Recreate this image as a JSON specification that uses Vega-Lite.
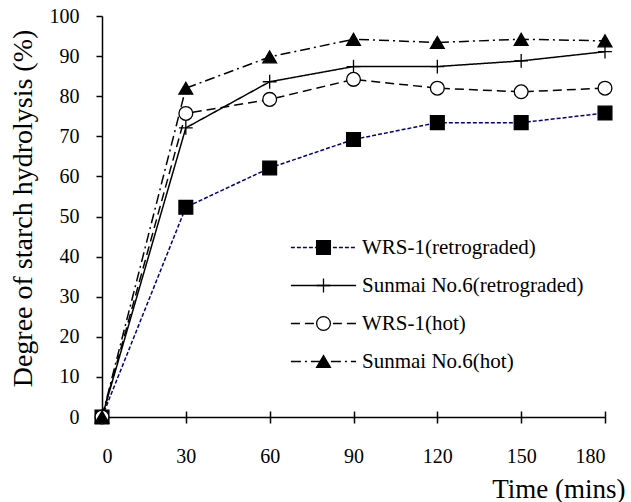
{
  "$schema": "https://vega.github.io/schema/vega-lite/v6.json",
  "width": 503,
  "height": 401,
  "autosize": "none",
  "padding": {"left": 102, "top": 16, "right": 26, "bottom": 85},
  "background": "white",
  "config": {"view": {"stroke": null}, "font": "Liberation Serif"},
  "data": {"values": [
    {"series": "WRS-1(retrograded)", "time": 0, "value": 0},
    {"series": "WRS-1(retrograded)", "time": 30, "value": 52.3},
    {"series": "WRS-1(retrograded)", "time": 60, "value": 62.1},
    {"series": "WRS-1(retrograded)", "time": 90, "value": 69.2},
    {"series": "WRS-1(retrograded)", "time": 120, "value": 73.4},
    {"series": "WRS-1(retrograded)", "time": 150, "value": 73.4},
    {"series": "WRS-1(retrograded)", "time": 180, "value": 75.8},
    {"series": "Sunmai No.6(retrograded)", "time": 0, "value": 0},
    {"series": "Sunmai No.6(retrograded)", "time": 30, "value": 72.1},
    {"series": "Sunmai No.6(retrograded)", "time": 60, "value": 83.6},
    {"series": "Sunmai No.6(retrograded)", "time": 90, "value": 87.4},
    {"series": "Sunmai No.6(retrograded)", "time": 120, "value": 87.4},
    {"series": "Sunmai No.6(retrograded)", "time": 150, "value": 88.8},
    {"series": "Sunmai No.6(retrograded)", "time": 180, "value": 91.1},
    {"series": "WRS-1(hot)", "time": 0, "value": 0},
    {"series": "WRS-1(hot)", "time": 30, "value": 75.7},
    {"series": "WRS-1(hot)", "time": 60, "value": 79.2},
    {"series": "WRS-1(hot)", "time": 90, "value": 84.2},
    {"series": "WRS-1(hot)", "time": 120, "value": 82.0},
    {"series": "WRS-1(hot)", "time": 150, "value": 81.1},
    {"series": "WRS-1(hot)", "time": 180, "value": 82.0},
    {"series": "Sunmai No.6(hot)", "time": 0, "value": 0},
    {"series": "Sunmai No.6(hot)", "time": 30, "value": 82.0},
    {"series": "Sunmai No.6(hot)", "time": 60, "value": 89.8},
    {"series": "Sunmai No.6(hot)", "time": 90, "value": 94.2},
    {"series": "Sunmai No.6(hot)", "time": 120, "value": 93.4},
    {"series": "Sunmai No.6(hot)", "time": 150, "value": 94.2},
    {"series": "Sunmai No.6(hot)", "time": 180, "value": 93.8}
  ]},
  "resolve": {"axis": {"x": "independent", "y": "independent"}},
  "layer": [
    {
      "mark": {"type": "line", "strokeWidth": 1.5},
      "encoding": {
        "x": {"field": "time", "type": "quantitative",
          "scale": {"domain": [0, 180], "nice": false, "zero": false},
          "axis": {"orient": "bottom", "values": [0, 30, 60, 90, 120, 150, 180], "grid": false,
            "domainColor": "black", "domainWidth": 1.5, "tickColor": "black", "tickWidth": 1.5, "tickSize": 6,
            "labelFont": "Liberation Serif", "labelFontSize": 20, "labelColor": "black", "labelPadding": 23,
            "title": "Time (mins)", "titleFont": "Liberation Serif", "titleFontSize": 27, "titleFontWeight": "normal",
            "titleColor": "black", "titleX": 523, "titleY": 80, "titleAlign": "right", "titleBaseline": "alphabetic", "titleAnchor": null}},
        "y": {"field": "value", "type": "quantitative",
          "scale": {"domain": [0, 100], "nice": false},
          "axis": {"orient": "left", "values": [0, 10, 20, 30, 40, 50, 60, 70, 80, 90, 100], "grid": false,
            "domainColor": "black", "domainWidth": 1.5, "tickColor": "black", "tickWidth": 1.5, "tickSize": 6,
            "labelFont": "Liberation Serif", "labelFontSize": 20, "labelColor": "black", "labelPadding": 17,
            "title": "Degree of starch hydrolysis (%)", "titleFont": "Liberation Serif", "titleFontSize": 28, "titleFontWeight": "normal",
            "titleColor": "black", "titleAngle": -90, "titleX": -71, "titleY": 192, "titleAlign": "center", "titleBaseline": "alphabetic", "titleAnchor": null}},
        "color": {"field": "series", "type": "nominal",
          "scale": {"domain": ["WRS-1(retrograded)", "Sunmai No.6(retrograded)", "WRS-1(hot)", "Sunmai No.6(hot)"],
            "range": ["#000080", "black", "black", "black"]},
          "legend": {"orient": "none", "legendX": 211, "legendY": 221, "title": null, "padding": 0,
            "symbolType": "M-5,0H5", "symbolSize": 170, "symbolStrokeWidth": 1.5,
            "labelFont": "Liberation Serif", "labelFontSize": 21, "labelColor": "black", "labelOffset": 28, "labelLimit": 400,
            "rowPadding": 16}},
        "strokeDash": {"field": "series", "type": "nominal",
          "scale": {"domain": ["WRS-1(retrograded)", "Sunmai No.6(retrograded)", "WRS-1(hot)", "Sunmai No.6(hot)"],
            "range": [[4, 2], [1, 0], [9, 5], [10, 4, 2, 4]]},
          "legend": {"orient": "none", "legendX": 211, "legendY": 221, "title": null, "padding": 0,
            "symbolType": "M-5,0H5", "symbolSize": 170, "symbolStrokeWidth": 1.5,
            "labelFont": "Liberation Serif", "labelFontSize": 21, "labelColor": "black", "labelOffset": 28, "labelLimit": 400,
            "rowPadding": 16}}
      }
    },
    {
      "mark": {"type": "point", "filled": true, "stroke": "black", "strokeWidth": 1.3, "size": 190, "opacity": 1},
      "encoding": {
        "x": {"field": "time", "type": "quantitative",
          "axis": {"orient": "bottom", "offset": -6, "values": [0, 30, 60, 90, 120, 150, 180], "grid": false, "domain": false, "labels": false, "title": null,
            "tickColor": "black", "tickWidth": 1.5, "tickSize": 6, "zindex": 1}},
        "y": {"field": "value", "type": "quantitative", "axis": null},
        "shape": {"field": "series", "type": "nominal",
          "scale": {"domain": ["WRS-1(retrograded)", "Sunmai No.6(retrograded)", "WRS-1(hot)", "Sunmai No.6(hot)", "none"],
            "range": ["square", "M-1,0H1M0,-1V1", "circle", "triangle-up", "circle"]},
          "legend": {"orient": "none", "legendX": 211, "legendY": 221, "title": null, "padding": 0,
            "values": ["WRS-1(retrograded)", "Sunmai No.6(retrograded)", "WRS-1(hot)", "Sunmai No.6(hot)"],
            "symbolSize": 190, "symbolStrokeColor": "black", "symbolStrokeWidth": 1.3,
            "labelFont": "Liberation Serif", "labelFontSize": 21, "labelOpacity": 0, "labelOffset": 28, "labelLimit": 400,
            "rowPadding": 16,
            "encoding": {"symbols": {"stroke": {"value": "black"}, "strokeWidth": {"value": 1.3}}}}},
        "fill": {"field": "series", "type": "nominal",
          "scale": {"domain": ["WRS-1(retrograded)", "Sunmai No.6(retrograded)", "WRS-1(hot)", "Sunmai No.6(hot)", "none"],
            "range": ["black", "black", "white", "black", "white"]},
          "legend": {"orient": "none", "legendX": 211, "legendY": 221, "title": null, "padding": 0,
            "values": ["WRS-1(retrograded)", "Sunmai No.6(retrograded)", "WRS-1(hot)", "Sunmai No.6(hot)"],
            "symbolSize": 190, "symbolStrokeColor": "black", "symbolStrokeWidth": 1.3,
            "labelFont": "Liberation Serif", "labelFontSize": 21, "labelOpacity": 0, "labelOffset": 28, "labelLimit": 400,
            "rowPadding": 16,
            "encoding": {"symbols": {"stroke": {"value": "black"}, "strokeWidth": {"value": 1.3}}}}}
      }
    }
  ]
}
